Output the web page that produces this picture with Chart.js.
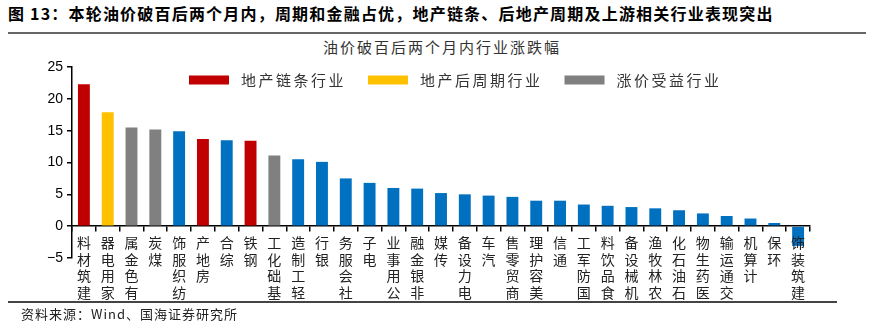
<!DOCTYPE html>
<html>
<head>
<meta charset="utf-8">
<script src="https://cdn.jsdelivr.net/npm/chart.js@4.4.1/dist/chart.umd.min.js"></script>
<style>
  body { margin: 0; width: 877px; height: 330px; background: #fff; position: relative; overflow: hidden; font-family: "Noto Sans CJK SC", sans-serif; }
  #head { position: absolute; left: 8px; top: 1px; font-size: 16px; font-weight: bold; letter-spacing: 1.2px; color: #000; white-space: nowrap; }
  #rule1 { position: absolute; left: 8px; top: 32px; width: 858px; height: 2px; background: #666; }
  #sub { position: absolute; left: 323px; top: 36px; font-size: 15px; letter-spacing: 2px; color: #333; white-space: nowrap; }
  #rule2 { position: absolute; left: 8px; top: 301px; width: 829px; height: 1.5px; background: #444; }
  #src { position: absolute; left: 21px; top: 304px; font-size: 13px; letter-spacing: 1px; color: #222; white-space: nowrap; }
  canvas { position: absolute; left: 0; top: 0; }
</style>
</head>
<body>
<div id="head">图 13：本轮油价破百后两个月内，周期和金融占优，地产链条、后地产周期及上游相关行业表现突出</div>
<div id="rule1"></div>
<div id="sub">油价破百后两个月内行业涨跌幅</div>
<canvas id="myChart" width="877" height="330"></canvas>
<div id="rule2"></div>
<div id="src">资料来源：Wind、国海证券研究所</div>
<script>
// industries, sorted by return
const categories = ['建筑材料', '家用电器', '有色金属', '煤炭', '纺织服饰', '房地产', '综合', '钢铁',
  '基础化工', '轻工制造', '银行', '社会服务', '电子', '公用事业', '非银金融', '传媒', '电力设备',
  '汽车', '商贸零售', '美容护理', '通信', '国防军工', '食品饮料', '机械设备', '农林牧渔',
  '石油石化', '医药生物', '交通运输', '计算机', '环保', '建筑装饰'];

// % change
const values = [22.3, 17.9, 15.5, 15.2, 14.9, 13.7, 13.5, 13.4, 11.1, 10.5, 10.1, 7.5, 6.8, 6.0,
  5.9, 5.2, 5.0, 4.8, 4.6, 4.0, 4.0, 3.4, 3.2, 3.0, 2.8, 2.5, 2.0, 1.6, 1.2, 0.5, -3.1];

// 0 = 地产链条, 1 = 地产后周期, 2 = 涨价受益, 3 = other
const barGroup = [0, 1, 2, 2, 3, 0, 3, 0, 2, 3, 3, 3, 3, 3, 3, 3, 3, 3, 3, 3, 3, 3, 3, 3, 3, 3, 3, 3, 3, 3, 3];

const groupNames = ['地产链条行业', '地产后周期行业', '涨价受益行业'];
const groupColors = ['#C00000', '#FFC000', '#808080', '#0070C0'];

const yTicks = [-5, 0, 5, 10, 15, 20, 25];

// labels read upward, last char next to the axis
const labels = categories.map(c => c.split('').reverse());

// legend drawn inside the plot
const groupLegend = {
  id: 'groupLegend',
  afterDraw(chart) {
    const ctx = chart.ctx;
    ctx.save();
    ctx.font = '15px "Noto Sans CJK SC"';
    ctx.letterSpacing = '2.5px';
    ctx.textBaseline = 'middle';
    let x = 189;
    const y = 80;
    groupNames.forEach((name, i) => {
      ctx.fillStyle = groupColors[i];
      ctx.fillRect(x, y - 4.5, 40, 9);
      x += 52;
      ctx.fillStyle = '#333';
      ctx.fillText(name, x, y);
      x += ctx.measureText(name).width + 22;
    });
    ctx.restore();
  }
};

const data = {
  labels: labels,
  datasets: [{
    data: values,
    backgroundColor: barGroup.map(g => groupColors[g]),
    borderWidth: 0,
    categoryPercentage: 1,
    barPercentage: 0.5
  }]
};

const config = {
  type: 'bar',
  data,
  options: {
    responsive: false,
    animation: false,
    layout: { padding: { top: 67, right: 67, bottom: 72, left: 0 } },
    plugins: {
      legend: { display: false },
      tooltip: { enabled: false }
    },
    scales: {
      x: {
        position: { y: 0 },
        grid: { drawOnChartArea: false, drawTicks: true, tickLength: 5, color: '#000', lineWidth: 1.5, offset: true },
        border: { color: '#000', width: 1.5 },
        ticks: {
          autoSkip: false, maxRotation: 0, minRotation: 0, padding: 3, color: '#222', z: 1,
          font: { family: 'Noto Sans CJK SC', size: 14, lineHeight: 1.2 }
        }
      },
      y: {
        min: yTicks[0],
        max: yTicks[yTicks.length - 1],
        afterFit(s) { s.width = 72; },
        afterBuildTicks(s) { s.ticks = yTicks.map(v => ({ value: v })); },
        grid: { drawOnChartArea: false, tickLength: 5, color: '#000', lineWidth: 1.5 },
        border: { color: '#000', width: 1.5 },
        ticks: {
          padding: 4, color: '#000',
          font: { family: 'Liberation Sans', size: 14 },
          callback: v => String(v).replace('-', '\u2212')
        }
      }
    }
  },
  plugins: [groupLegend]
};

const myChart = new Chart(document.getElementById('myChart'), config);
</script>
</body>
</html>
